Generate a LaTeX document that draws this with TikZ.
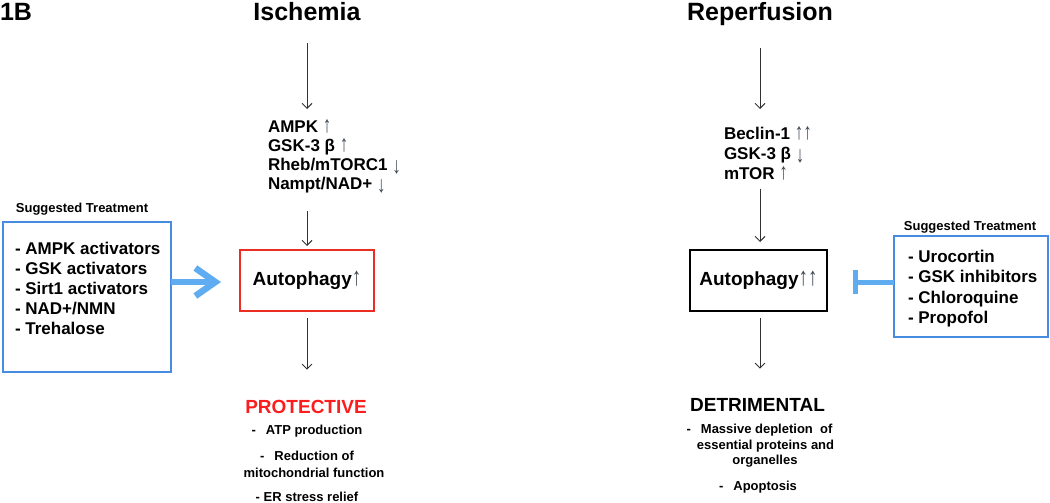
\documentclass[tikz,border=0pt]{standalone}
\usepackage{fontspec}
\usepackage{graphicx}
\setmainfont{Liberation Sans}
\usetikzlibrary{arrows.meta}
\definecolor{tblue}{RGB}{70,140,225}
\definecolor{abblue}{RGB}{95,172,240}
\definecolor{rbox}{RGB}{235,45,35}
\definecolor{ptred}{RGB}{250,30,30}
\definecolor{arrgray}{RGB}{60,70,80}
\definecolor{lgray}{RGB}{50,50,50}
\newcommand\ua{\textcolor{arrgray}{\mdseries\scalebox{1}[1.35]{↑}}}
\newcommand\da{\textcolor{arrgray}{\mdseries\raisebox{-0.15em}{\scalebox{1}[1.35]{↓}}}}
\begin{document}
\begin{tikzpicture}[x=1pt,y=-1pt,
  every node/.style={inner sep=0pt, outer sep=0pt},
  title/.style={font=\bfseries\fontsize{25}{30}\selectfont, anchor=base},
  lst/.style={font=\bfseries\fontsize{17}{19}\selectfont, align=left, anchor=north west},
  autobox/.style={font=\bfseries\fontsize{19}{22}\selectfont, line width=1.5pt, minimum height=61pt},
  outcome/.style={font=\bfseries\fontsize{19}{22}\selectfont, anchor=base},
  item/.style={font=\bfseries\fontsize{13}{16}\selectfont, anchor=base},
  sugg/.style={font=\bfseries\fontsize{13}{16}\selectfont, anchor=base},
  tbox/.style={draw=tblue, line width=1.6pt},
  tlist/.style={font=\bfseries\fontsize{17}{20}\selectfont, align=left, anchor=north west},
  arr/.style={draw=lgray, line width=0.9pt, -{Straight Barb[length=5pt,width=10pt]}},
  bluearrow/.style={draw=abblue, line width=6.5pt, -{Straight Barb[length=20pt,width=28pt]}},
  inhib/.style={draw=abblue, line width=5pt, -{Bar[width=24pt]}}
]
\useasboundingbox (0,0) rectangle (1050,503);

% titles
\node[title, anchor=base west] (fig) at (0,21) {1B};
\node[title] (isch) at (307,21) {Ischemia};
\node[title] (rep) at (760,21) {Reperfusion};

% left column
\node[lst] (listL) at (268,120) {AMPK \ua\\GSK-3 β \ua\\Rheb/mTORC1 \da\\Nampt/NAD+ \da};
\node[autobox, draw=rbox, minimum width=134pt] (autoL) at (307,280.5) {Autophagy\ua};
\node[outcome, text=ptred] (prot) at (306,413) {PROTECTIVE};
\node[item] (p1) at (307,434.5) {-\hspace{10pt}ATP production};
\node[item] (p2) at (307,460.5) {-\hspace{10pt}Reduction of};
\node[item] (p3) at (314,477.5) {mitochondrial function};
\node[item] (p4) at (307,501.5) {- ER stress relief};

\draw[arr, shorten <=22pt, shorten >=11pt] (isch.south) -- (isch.south |- listL.north);
\draw[arr, shorten <=18pt, shorten >=4pt] (autoL.north |- listL.south) -- (autoL.north);
\draw[arr, shorten <=7pt, shorten >=30pt] (autoL.south) -- (autoL.south |- prot.north);

% left treatment
\node[sugg] (sugL) at (82,212.5) {Suggested Treatment};
\node[tbox, minimum width=168pt, minimum height=150pt] (boxL) at (87,297) {};
\node[tlist] (txtL) at (15,242) {- AMPK activators\\- GSK activators\\- Sirt1 activators\\- NAD+/NMN\\- Trehalose};
\draw[bluearrow, shorten >=19pt] ([yshift=-1.5pt]boxL.east |- autoL.west) -- ([yshift=-1.5pt]autoL.west);

% right column
\node[lst, font=\bfseries\fontsize{17}{20}\selectfont] (listR) at (724,127) {Beclin-1 \ua\ua\\GSK-3 β \da\\mTOR \ua};
\node[autobox, draw=black, minimum width=137pt] (autoR) at (758.5,280.5) {Autophagy\ua\ua};
\node[outcome] (detr) at (757.5,411.8) {DETRIMENTAL};
\node[item] (d1) at (759.5,433.5) {-\hspace{10pt}Massive depletion\ \ of};
\node[item] (d2) at (765.5,449.5) {essential proteins and};
\node[item] (d3) at (765,464.5) {organelles};
\node[item] (d4) at (758,490.5) {-\hspace{10pt}Apoptosis};

\draw[arr, shorten <=22pt, shorten >=18pt] (rep.south) -- (rep.south |- listR.north);
\draw[arr, shorten <=8pt, shorten >=8pt] (rep.south |- listR.south) -- (rep.south |- autoR.north);
\draw[arr, shorten <=7pt, shorten >=30pt] (rep.south |- autoR.south) -- (rep.south |- detr.north);

% right treatment
\node[sugg] (sugR) at (970,230.5) {Suggested Treatment};
\node[tbox, minimum width=154pt, minimum height=101pt] (boxR) at (971,286.5) {};
\node[tlist, font=\bfseries\fontsize{17}{20.5}\selectfont] (txtR) at (908,250) {- Urocortin\\- GSK inhibitors\\- Chloroquine\\- Propofol};
\draw[inhib, shorten >=26pt] ([yshift=-1.5pt]boxR.west |- autoR.east) -- ([yshift=-1.5pt]autoR.east);
\end{tikzpicture}
\end{document}
